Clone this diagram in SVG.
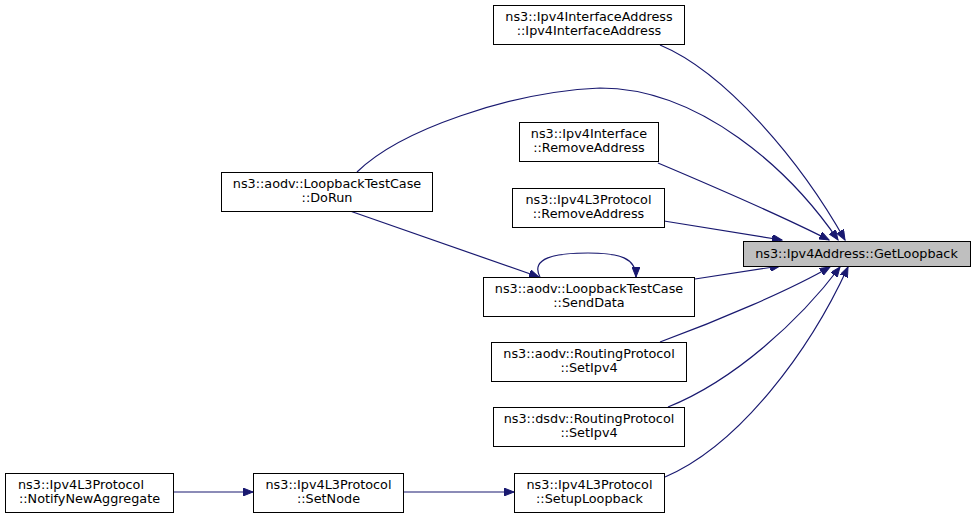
<svg xmlns="http://www.w3.org/2000/svg" width="976" height="519" viewBox="0 0 976 519">
<style>
.n rect{fill:#ffffff;stroke:#000000;stroke-width:1}
.t rect{fill:#bfbfbf;stroke:#000000;stroke-width:1}
text{font-family:"DejaVu Sans","Liberation Sans",sans-serif;font-size:12.8px;fill:#000000;text-anchor:middle}
text.l{text-anchor:start}
.e path{fill:none;stroke:#191970;stroke-width:1.2;marker-end:url(#ah)}
</style>
<defs>
<marker id="ah" markerUnits="userSpaceOnUse" markerWidth="11" markerHeight="8" refX="10" refY="4" orient="auto">
<path d="M0,0 L10,4 L0,8 z" fill="#191970" stroke="#191970" stroke-width="1"/>
</marker>
</defs>
<rect x="0" y="0" width="976" height="519" fill="#ffffff"/>
<g id="edges" class="e">
<path d="M660,45 C725,72 800,160 845,240"/>
<path d="M357,172 C400,130 510,92 600,88 C700,88 790,170 838,240"/>
<path d="M658,163 C710,185 780,215 829,240"/>
<path d="M664,221 L782,240"/>
<path d="M695,279 L780,266"/>
<path d="M660,342 C720,320 790,290 830,267"/>
<path d="M668,407 C735,380 800,320 840,267"/>
<path d="M665,477 C740,445 810,350 848,267"/>
<path d="M350,211 L539,277"/>
<path d="M540,277 C530,258 555,253 588,253 C620,253 636,258 636,277"/>
<path d="M173,492 L253,492"/>
<path d="M403,492 L514,492"/>
</g>
<g id="target" class="t">
<rect x="743.5" y="241.5" width="227" height="25"/>
<text x="856.5" y="258">ns3::Ipv4Address::GetLoopback</text>
</g>
<g id="ifaceaddr" class="n">
<rect x="493.5" y="5.5" width="191" height="39"/>
<text x="589" y="21">ns3::Ipv4InterfaceAddress</text>
<text x="589" y="35">::Ipv4InterfaceAddress</text>
</g>
<g id="ifaceremove" class="n">
<rect x="519.5" y="122.5" width="139" height="39"/>
<text x="589" y="138">ns3::Ipv4Interface</text>
<text x="589" y="152">::RemoveAddress</text>
</g>
<g id="l3remove" class="n">
<rect x="512.5" y="188.5" width="152" height="39"/>
<text x="588.5" y="204">ns3::Ipv4L3Protocol</text>
<text x="588.5" y="218">::RemoveAddress</text>
</g>
<g id="dorun" class="n">
<rect x="221.5" y="172.5" width="211" height="39"/>
<text x="327" y="188">ns3::aodv::LoopbackTestCase</text>
<text x="327" y="202">::DoRun</text>
</g>
<g id="senddata" class="n">
<rect x="483.5" y="277.5" width="211" height="39"/>
<text x="589" y="293">ns3::aodv::LoopbackTestCase</text>
<text x="589" y="307">::SendData</text>
</g>
<g id="aodvset" class="n">
<rect x="491.5" y="342.5" width="195" height="39"/>
<text x="589" y="358">ns3::aodv::RoutingProtocol</text>
<text x="589" y="372">::SetIpv4</text>
</g>
<g id="dsdvset" class="n">
<rect x="493.5" y="407.5" width="191" height="39"/>
<text x="589" y="423">ns3::dsdv::RoutingProtocol</text>
<text x="589" y="437">::SetIpv4</text>
</g>
<g id="setup" class="n">
<rect x="514.5" y="473.5" width="150" height="39"/>
<text x="589.5" y="489">ns3::Ipv4L3Protocol</text>
<text x="589.5" y="503">::SetupLoopback</text>
</g>
<g id="setnode" class="n">
<rect x="253.5" y="473.5" width="150" height="39"/>
<text x="328.5" y="489">ns3::Ipv4L3Protocol</text>
<text x="328.5" y="503">::SetNode</text>
</g>
<g id="notify" class="n">
<rect x="5.5" y="473.5" width="168" height="39"/>
<text class="l" x="18" y="489">ns3::Ipv4L3Protocol</text>
<text x="89.5" y="503">::NotifyNewAggregate</text>
</g>
</svg>
